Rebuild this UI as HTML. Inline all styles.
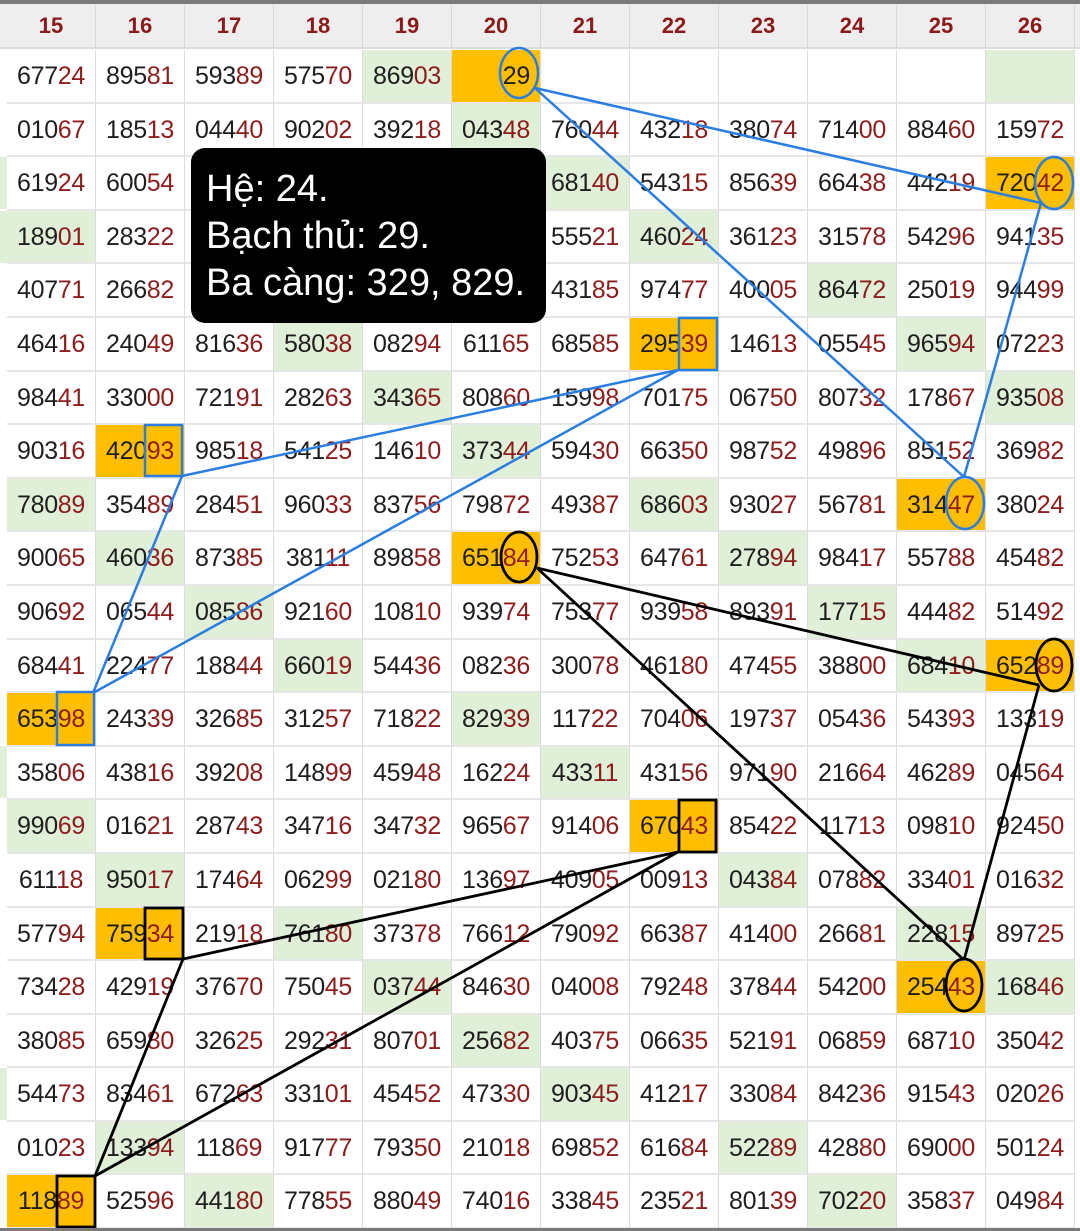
<!DOCTYPE html>
<html><head><meta charset="utf-8">
<style>
*{margin:0;padding:0;box-sizing:border-box}
body{width:1080px;height:1231px;overflow:hidden;background:#fff;position:relative;font-family:"Liberation Sans",sans-serif}
.top{position:absolute;left:0;top:0;width:1080px;height:4px;background:#7a7a7a}
.hdr{position:absolute;left:0;top:4px;width:1080px;height:45px;background:#eeeeee;border-bottom:2px solid #dcdcdc}
.hdr div{position:absolute;top:0;width:89px;height:43px;line-height:43px;text-align:center;color:#8b1a1a;font-weight:bold;font-size:22px;border-right:1px solid #d8d8d8}
.grid{position:absolute;left:7px;top:50px;display:grid;grid-template-columns:repeat(12,89px);grid-template-rows:repeat(22,53.6px)}
.c{border-right:1px solid #dcdcdc;border-bottom:2px solid #e6e6e6;text-align:center;font-size:25px;line-height:52px;color:#1e1e1e;letter-spacing:-0.3px}
.c b{font-weight:normal;color:#8e1c1c}
.g{background:#dfefd8}
.o{background:#ffbf00}
.tip{position:absolute;left:191px;top:148px;width:355px;height:175px;background:#000;border-radius:14px;color:#fff;font-size:38px;line-height:47px;padding:18px 0 0 15px}
.bot{position:absolute;left:0;top:1228px;width:1080px;height:3px;background:#7a7a7a}
.ls{position:absolute;left:0;width:7px;height:52px;background:#dfefd8}
</style></head><body>
<div class="top"></div>
<div class="hdr">
<div style="left:7px">15</div><div style="left:96px">16</div><div style="left:185px">17</div><div style="left:274px">18</div><div style="left:363px">19</div><div style="left:452px">20</div><div style="left:541px">21</div><div style="left:630px">22</div><div style="left:719px">23</div><div style="left:808px">24</div><div style="left:897px">25</div><div style="left:986px">26</div>
</div>
<div class="ls" style="top:157px"></div>
<div class="ls" style="top:211px"></div>
<div class="ls" style="top:746px"></div>
<div class="ls" style="top:1068px"></div>
<div class="grid">
<div class="c">677<b>24</b></div><div class="c">895<b>81</b></div><div class="c">593<b>89</b></div><div class="c">575<b>70</b></div><div class="c g">869<b>03</b></div><div class="c o"><span style="visibility:hidden">000</span>29</div><div class="c"></div><div class="c"></div><div class="c"></div><div class="c"></div><div class="c"></div><div class="c g"></div>
<div class="c">010<b>67</b></div><div class="c">185<b>13</b></div><div class="c">044<b>40</b></div><div class="c">902<b>02</b></div><div class="c">392<b>18</b></div><div class="c g">043<b>48</b></div><div class="c">760<b>44</b></div><div class="c">432<b>18</b></div><div class="c">380<b>74</b></div><div class="c">714<b>00</b></div><div class="c">884<b>60</b></div><div class="c">159<b>72</b></div>
<div class="c">619<b>24</b></div><div class="c">600<b>54</b></div><div class="c"></div><div class="c"></div><div class="c"></div><div class="c"></div><div class="c g">681<b>40</b></div><div class="c">543<b>15</b></div><div class="c">856<b>39</b></div><div class="c">664<b>38</b></div><div class="c">442<b>19</b></div><div class="c o">720<b>42</b></div>
<div class="c g">189<b>01</b></div><div class="c">283<b>22</b></div><div class="c"></div><div class="c"></div><div class="c"></div><div class="c"></div><div class="c">555<b>21</b></div><div class="c g">460<b>24</b></div><div class="c">361<b>23</b></div><div class="c">315<b>78</b></div><div class="c">542<b>96</b></div><div class="c">941<b>35</b></div>
<div class="c">407<b>71</b></div><div class="c">266<b>82</b></div><div class="c"></div><div class="c"></div><div class="c"></div><div class="c"></div><div class="c">431<b>85</b></div><div class="c">974<b>77</b></div><div class="c">400<b>05</b></div><div class="c g">864<b>72</b></div><div class="c">250<b>19</b></div><div class="c">944<b>99</b></div>
<div class="c">464<b>16</b></div><div class="c">240<b>49</b></div><div class="c">816<b>36</b></div><div class="c g">580<b>38</b></div><div class="c">082<b>94</b></div><div class="c">611<b>65</b></div><div class="c">685<b>85</b></div><div class="c o">295<b>39</b></div><div class="c">146<b>13</b></div><div class="c">055<b>45</b></div><div class="c g">965<b>94</b></div><div class="c">072<b>23</b></div>
<div class="c">984<b>41</b></div><div class="c">330<b>00</b></div><div class="c">721<b>91</b></div><div class="c">282<b>63</b></div><div class="c g">343<b>65</b></div><div class="c">808<b>60</b></div><div class="c">159<b>98</b></div><div class="c">701<b>75</b></div><div class="c">067<b>50</b></div><div class="c">807<b>32</b></div><div class="c">178<b>67</b></div><div class="c g">935<b>08</b></div>
<div class="c">903<b>16</b></div><div class="c o">420<b>93</b></div><div class="c">985<b>18</b></div><div class="c">541<b>25</b></div><div class="c">146<b>10</b></div><div class="c g">373<b>44</b></div><div class="c">594<b>30</b></div><div class="c">663<b>50</b></div><div class="c">987<b>52</b></div><div class="c">498<b>96</b></div><div class="c">851<b>52</b></div><div class="c">369<b>82</b></div>
<div class="c g">780<b>89</b></div><div class="c">354<b>89</b></div><div class="c">284<b>51</b></div><div class="c">960<b>33</b></div><div class="c">837<b>56</b></div><div class="c">798<b>72</b></div><div class="c">493<b>87</b></div><div class="c g">686<b>03</b></div><div class="c">930<b>27</b></div><div class="c">567<b>81</b></div><div class="c o">314<b>47</b></div><div class="c">380<b>24</b></div>
<div class="c">900<b>65</b></div><div class="c g">460<b>36</b></div><div class="c">873<b>85</b></div><div class="c">381<b>11</b></div><div class="c">898<b>58</b></div><div class="c o">651<b>84</b></div><div class="c">752<b>53</b></div><div class="c">647<b>61</b></div><div class="c g">278<b>94</b></div><div class="c">984<b>17</b></div><div class="c">557<b>88</b></div><div class="c">454<b>82</b></div>
<div class="c">906<b>92</b></div><div class="c">065<b>44</b></div><div class="c g">085<b>86</b></div><div class="c">921<b>60</b></div><div class="c">108<b>10</b></div><div class="c">939<b>74</b></div><div class="c">753<b>77</b></div><div class="c">939<b>58</b></div><div class="c">893<b>91</b></div><div class="c g">177<b>15</b></div><div class="c">444<b>82</b></div><div class="c">514<b>92</b></div>
<div class="c">684<b>41</b></div><div class="c">224<b>77</b></div><div class="c">188<b>44</b></div><div class="c g">660<b>19</b></div><div class="c">544<b>36</b></div><div class="c">082<b>36</b></div><div class="c">300<b>78</b></div><div class="c">461<b>80</b></div><div class="c">474<b>55</b></div><div class="c">388<b>00</b></div><div class="c g">684<b>10</b></div><div class="c o">652<b>89</b></div>
<div class="c o">653<b>98</b></div><div class="c">243<b>39</b></div><div class="c">326<b>85</b></div><div class="c">312<b>57</b></div><div class="c">718<b>22</b></div><div class="c g">829<b>39</b></div><div class="c">117<b>22</b></div><div class="c">704<b>06</b></div><div class="c">197<b>37</b></div><div class="c">054<b>36</b></div><div class="c">543<b>93</b></div><div class="c">133<b>19</b></div>
<div class="c">358<b>06</b></div><div class="c">438<b>16</b></div><div class="c">392<b>08</b></div><div class="c">148<b>99</b></div><div class="c">459<b>48</b></div><div class="c">162<b>24</b></div><div class="c g">433<b>11</b></div><div class="c">431<b>56</b></div><div class="c">971<b>90</b></div><div class="c">216<b>64</b></div><div class="c">462<b>89</b></div><div class="c">045<b>64</b></div>
<div class="c g">990<b>69</b></div><div class="c">016<b>21</b></div><div class="c">287<b>43</b></div><div class="c">347<b>16</b></div><div class="c">347<b>32</b></div><div class="c">965<b>67</b></div><div class="c">914<b>06</b></div><div class="c o">670<b>43</b></div><div class="c">854<b>22</b></div><div class="c">117<b>13</b></div><div class="c">098<b>10</b></div><div class="c">924<b>50</b></div>
<div class="c">611<b>18</b></div><div class="c g">950<b>17</b></div><div class="c">174<b>64</b></div><div class="c">062<b>99</b></div><div class="c">021<b>80</b></div><div class="c">136<b>97</b></div><div class="c">409<b>05</b></div><div class="c">009<b>13</b></div><div class="c g">043<b>84</b></div><div class="c">078<b>82</b></div><div class="c">334<b>01</b></div><div class="c">016<b>32</b></div>
<div class="c">577<b>94</b></div><div class="c o">759<b>34</b></div><div class="c">219<b>18</b></div><div class="c g">761<b>80</b></div><div class="c">373<b>78</b></div><div class="c">766<b>12</b></div><div class="c">790<b>92</b></div><div class="c">663<b>87</b></div><div class="c">414<b>00</b></div><div class="c">266<b>81</b></div><div class="c g">228<b>15</b></div><div class="c">897<b>25</b></div>
<div class="c">734<b>28</b></div><div class="c">429<b>19</b></div><div class="c">376<b>70</b></div><div class="c">750<b>45</b></div><div class="c g">037<b>44</b></div><div class="c">846<b>30</b></div><div class="c">040<b>08</b></div><div class="c">792<b>48</b></div><div class="c">378<b>44</b></div><div class="c">542<b>00</b></div><div class="c o">254<b>43</b></div><div class="c g">168<b>46</b></div>
<div class="c">380<b>85</b></div><div class="c">659<b>80</b></div><div class="c">326<b>25</b></div><div class="c">292<b>31</b></div><div class="c">807<b>01</b></div><div class="c g">256<b>82</b></div><div class="c">403<b>75</b></div><div class="c">066<b>35</b></div><div class="c">521<b>91</b></div><div class="c">068<b>59</b></div><div class="c">687<b>10</b></div><div class="c">350<b>42</b></div>
<div class="c">544<b>73</b></div><div class="c">834<b>61</b></div><div class="c">672<b>63</b></div><div class="c">331<b>01</b></div><div class="c">454<b>52</b></div><div class="c">473<b>30</b></div><div class="c g">903<b>45</b></div><div class="c">412<b>17</b></div><div class="c">330<b>84</b></div><div class="c">842<b>36</b></div><div class="c">915<b>43</b></div><div class="c">020<b>26</b></div>
<div class="c">010<b>23</b></div><div class="c g">133<b>94</b></div><div class="c">118<b>69</b></div><div class="c">917<b>77</b></div><div class="c">793<b>50</b></div><div class="c">210<b>18</b></div><div class="c">698<b>52</b></div><div class="c">616<b>84</b></div><div class="c g">522<b>89</b></div><div class="c">428<b>80</b></div><div class="c">690<b>00</b></div><div class="c">501<b>24</b></div>
<div class="c o">118<b>89</b></div><div class="c">525<b>96</b></div><div class="c g">441<b>80</b></div><div class="c">778<b>55</b></div><div class="c">880<b>49</b></div><div class="c">740<b>16</b></div><div class="c">338<b>45</b></div><div class="c">235<b>21</b></div><div class="c">801<b>39</b></div><div class="c g">702<b>20</b></div><div class="c">358<b>37</b></div><div class="c">049<b>84</b></div>
</div>
<div class="tip">Hệ: 24.<br>Bạch thủ: 29.<br>Ba càng: 329, 829.</div>
<svg style="position:absolute;left:0;top:0" width="1080" height="1231">
<g fill="none" stroke="#2a7de1" stroke-width="2.5">
<line x1="535" y1="88" x2="1041" y2="203"/>
<line x1="535" y1="88" x2="964" y2="477"/>
<line x1="1041" y1="203" x2="964" y2="477"/>
<ellipse cx="519" cy="73" rx="19" ry="25"/>
<ellipse cx="1054" cy="183" rx="19" ry="26"/>
<ellipse cx="965" cy="503" rx="19" ry="26"/>
<line x1="678" y1="370" x2="182" y2="476"/>
<line x1="182" y1="476" x2="93" y2="693"/>
<line x1="678" y1="370" x2="93" y2="693"/>
<rect x="679" y="318" width="38" height="52"/>
<rect x="145" y="425" width="37" height="51"/>
<rect x="57" y="692" width="37" height="53"/>
</g>
<g fill="none" stroke="#000" stroke-width="2.8">
<line x1="537" y1="568" x2="1039" y2="685"/>
<line x1="537" y1="568" x2="964" y2="960"/>
<line x1="1039" y1="685" x2="964" y2="960"/>
<ellipse cx="519" cy="557" rx="18" ry="25"/>
<ellipse cx="1054" cy="665" rx="18" ry="26"/>
<ellipse cx="964" cy="985" rx="18" ry="26"/>
<line x1="678" y1="852" x2="183" y2="959"/>
<line x1="183" y1="959" x2="95" y2="1176"/>
<line x1="678" y1="852" x2="95" y2="1176"/>
<rect x="679" y="800" width="37" height="52"/>
<rect x="145" y="908" width="38" height="51"/>
<rect x="57" y="1176" width="38" height="51"/>
</g>
</svg>
<div class="bot"></div>
</body></html>
